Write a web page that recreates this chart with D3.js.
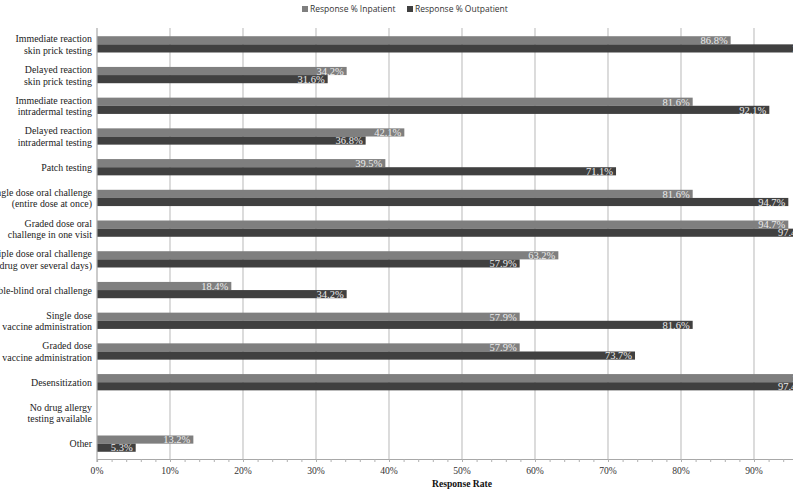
<!DOCTYPE html>
<html>
<head>
<meta charset="utf-8">
<script src="https://cdn.jsdelivr.net/npm/d3@7"></script>
<style>
  body { margin: 0; background: #fff; }
  svg { display: block; }
  .serif { font-family: "Liberation Serif", "Times New Roman", Times, serif; }
</style>
</head>
<body>
<div id="chart"></div>
<script>
// data
var categories = [
  ["Immediate reaction", "skin prick testing"],
  ["Delayed reaction", "skin prick testing"],
  ["Immediate reaction", "intradermal testing"],
  ["Delayed reaction", "intradermal testing"],
  ["Patch testing"],
  ["Single dose oral challenge", "(entire dose at once)"],
  ["Graded dose oral", "challenge in one visit"],
  ["Multiple dose oral challenge", "(drug over several days)"],
  ["Double-blind oral challenge"],
  ["Single dose", "vaccine administration"],
  ["Graded dose", "vaccine administration"],
  ["Desensitization"],
  ["No drug allergy", "testing available"],
  ["Other"]
];
var inpatient  = [86.8, 34.2, 81.6, 42.1, 39.5, 81.6, 94.7, 63.2, 18.4, 57.9, 57.9, 100, 0, 13.2];
var outpatient = [100, 31.6, 92.1, 36.8, 71.1, 94.7, 97.4, 57.9, 34.2, 81.6, 73.7, 97.4, 0, 5.3];
var series = ["Response % Inpatient", "Response % Outpatient"];
var colors = ["#7f7f7f", "#404040"];
var xTicks = [0, 10, 20, 30, 40, 50, 60, 70, 80, 90];

// sizes (window.top is reserved, so plot_top)
var svg_w = 800, svg_h = 496;
var plot_left = 97, plot_top = 29, plot_bottom = 459;
var clip_right = 793;

var svg = d3.select("#chart").append("svg")
  .attr("width", svg_w)
  .attr("height", svg_h);

svg.append("clipPath").attr("id", "plotclip")
  .append("rect")
  .attr("x", plot_left).attr("y", 0)
  .attr("width", clip_right - plot_left).attr("height", svg_h);

var x = d3.scaleLinear().domain([0, 100]).range([plot_left, plot_left + 730]);
var idx = d3.range(categories.length);
var y0 = d3.scaleBand().domain(idx).range([plot_top, plot_bottom])
  .paddingInner(0.47).paddingOuter(0.235);
var y1 = d3.scaleBand().domain([0, 1]).range([0, y0.bandwidth()]);

var plot = svg.append("g").attr("clip-path", "url(#plotclip)");

// grid lines
plot.selectAll("line.grid")
  .data(xTicks.filter(function(d) { return d > 0; }))
  .enter().append("line")
  .attr("class", "grid")
  .attr("x1", function(d) { return x(d); })
  .attr("x2", function(d) { return x(d); })
  .attr("y1", plot_top - 1).attr("y2", plot_bottom)
  .attr("stroke", "#c4c4c4").attr("stroke-width", 1.2);

// minor ticks on bottom axis
var minorAxis = d3.axisBottom(x)
  .tickValues(d3.range(0, 100, 2))
  .tickSize(3)
  .tickFormat("");
var gMinor = plot.append("g")
  .attr("transform", "translate(0," + plot_bottom + ")")
  .call(minorAxis);
gMinor.select(".domain").attr("stroke", "#a8a8a8").attr("stroke-width", 1.2);
gMinor.selectAll(".tick line").attr("stroke", "#b0b0b0");

// bars
var rows = plot.selectAll("g.row")
  .data(idx)
  .enter().append("g")
  .attr("class", "row")
  .attr("transform", function(i) { return "translate(0," + y0(i) + ")"; });

[inpatient, outpatient].forEach(function(vals, s) {
  rows.filter(function(i) { return vals[i] > 0; })
    .append("rect")
    .attr("x", x(0))
    .attr("y", y1(s))
    .attr("width", function(i) { return x(vals[i]) - x(0); })
    .attr("height", y1.bandwidth())
    .attr("fill", colors[s]);

  rows.filter(function(i) { return vals[i] > 0; })
    .append("text")
    .attr("class", "serif")
    .attr("x", function(i) { return x(vals[i]) - 3; })
    .attr("y", y1(s) + y1.bandwidth() / 2)
    .attr("dy", "0.36em")
    .attr("text-anchor", "end")
    .attr("font-size", "10.5px")
    .attr("fill", "#ececec")
    .text(function(i) { return vals[i].toFixed(1) + "%"; });
});

// vertical axis line at 0%
svg.append("line")
  .attr("x1", x(0)).attr("x2", x(0))
  .attr("y1", plot_top - 1).attr("y2", plot_bottom + 3)
  .attr("stroke", "#a8a8a8").attr("stroke-width", 1.2);

// category labels
var lab = svg.selectAll("text.cat")
  .data(idx)
  .enter().append("text")
  .attr("class", "cat serif")
  .attr("text-anchor", "end")
  .attr("font-size", "9.9px")
  .attr("fill", "#222");

lab.each(function(i) {
  var lines = categories[i];
  var cy = y0(i) + y0.bandwidth() / 2;
  var start = cy - (lines.length - 1) * 5.5;
  var t = d3.select(this);
  lines.forEach(function(l, k) {
    t.append("tspan")
      .attr("x", 92)
      .attr("y", start + k * 11.5)
      .attr("dy", "0.35em")
      .text(l);
  });
});

// x tick labels
svg.selectAll("text.xt")
  .data(xTicks)
  .enter().append("text")
  .attr("class", "xt serif")
  .attr("x", function(d) { return x(d); })
  .attr("y", 474)
  .attr("text-anchor", "middle")
  .attr("font-size", "9.6px")
  .attr("fill", "#333")
  .text(function(d) { return d + "%"; });

svg.append("text")
  .attr("class", "serif")
  .attr("x", x(50))
  .attr("y", 487)
  .attr("text-anchor", "middle")
  .attr("font-size", "9.6px")
  .attr("font-weight", "bold")
  .attr("fill", "#111")
  .text("Response Rate");

// legend
var legX = [302, 407];
var leg = svg.selectAll("g.leg")
  .data(series)
  .enter().append("g")
  .attr("class", "leg")
  .attr("transform", function(d, i) { return "translate(" + legX[i] + ",9)"; });
leg.append("rect")
  .attr("x", 0).attr("y", -3)
  .attr("width", 6).attr("height", 6)
  .attr("fill", function(d, i) { return colors[i]; });
leg.append("text")
  .attr("x", 8).attr("y", 0)
  .attr("dy", "0.35em")
  .attr("font-family", "'Open Sans', sans-serif")
  .attr("font-size", "8.5px")
  .attr("fill", "#333")
  .text(function(d) { return d; });
</script>
</body>
</html>
